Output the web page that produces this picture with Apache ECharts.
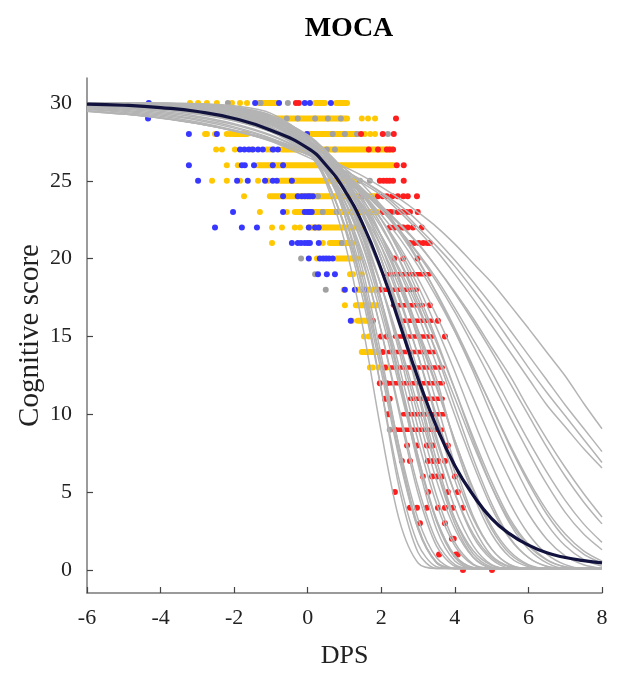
<!doctype html>
<html>
<head>
<meta charset="UTF-8">
<title>MOCA</title>
<script src="https://cdn.jsdelivr.net/npm/echarts@6/dist/echarts.min.js"></script>
<style>
  html, body { margin: 0; padding: 0; background: #fff; }
  #chart { width: 619px; height: 675px; }
</style>
</head>
<body>
<div id="chart"></div>
<script>
// x positions shared by all fitted curves
var curveX = [-6, -5, -4, -3, -2, -1, 0, 0.5, 1, 1.5, 2, 2.5, 3, 3.5, 4, 4.5, 5, 5.5, 6, 6.5, 7, 7.5, 8];

// individual fitted curves (grey)
var grayCurves = [
  [30, 30, 29.98, 29.93, 29.75, 29.15, 27.13, 24.86, 21.12, 15.58, 8.85, 3.12, 0.45, 0.1, 0.1, 0.1, 0.1, 0.1, 0.1, 0.1, 0.1, 0.1, 0.1],
  [30, 30, 29.98, 29.95, 29.81, 29.33, 27.74, 25.91, 22.82, 18.0, 11.59, 5.12, 1.12, 0.1, 0.1, 0.1, 0.1, 0.1, 0.1, 0.1, 0.1, 0.1, 0.1],
  [30, 29.99, 29.97, 29.9, 29.69, 29.04, 27.13, 25.16, 22.0, 17.4, 11.59, 5.66, 1.66, 0.21, 0.1, 0.1, 0.1, 0.1, 0.1, 0.1, 0.1, 0.1, 0.1],
  [30, 29.99, 29.97, 29.92, 29.74, 29.2, 27.64, 25.95, 23.27, 19.23, 13.77, 7.67, 2.8, 0.48, 0.1, 0.1, 0.1, 0.1, 0.1, 0.1, 0.1, 0.1, 0.1],
  [30, 29.98, 29.94, 29.83, 29.55, 28.8, 26.84, 24.98, 22.17, 18.24, 13.22, 7.79, 3.28, 0.8, 0.1, 0.1, 0.1, 0.1, 0.1, 0.1, 0.1, 0.1, 0.1],
  [30, 29.98, 29.95, 29.87, 29.63, 29.01, 27.38, 25.81, 23.41, 19.95, 15.32, 9.94, 4.91, 1.55, 0.24, 0.1, 0.1, 0.1, 0.1, 0.1, 0.1, 0.1, 0.1],
  [30, 29.98, 29.96, 29.89, 29.69, 29.19, 27.84, 26.52, 24.49, 21.47, 17.29, 12.13, 6.78, 2.63, 0.57, 0.1, 0.1, 0.1, 0.1, 0.1, 0.1, 0.1, 0.1],
  [29.98, 29.95, 29.9, 29.77, 29.46, 28.7, 27.0, 25.47, 23.27, 20.26, 16.35, 11.72, 7.04, 3.2, 0.91, 0.16, 0.1, 0.1, 0.1, 0.1, 0.1, 0.1, 0.1],
  [29.98, 29.96, 29.92, 29.81, 29.55, 28.94, 27.51, 26.24, 24.37, 21.73, 18.24, 13.9, 9.12, 4.8, 1.77, 0.37, 0.1, 0.1, 0.1, 0.1, 0.1, 0.1, 0.1],
  [29.99, 29.97, 29.94, 29.84, 29.63, 29.13, 27.94, 26.88, 25.32, 23.04, 19.95, 15.96, 11.31, 6.52, 2.96, 0.82, 0.12, 0.1, 0.1, 0.1, 0.1, 0.1, 0.1],
  [29.96, 29.92, 29.83, 29.65, 29.26, 28.46, 26.84, 25.52, 23.71, 21.3, 18.24, 14.54, 10.49, 6.53, 3.28, 1.23, 0.29, 0.1, 0.1, 0.1, 0.1, 0.1, 0.1],
  [29.97, 29.94, 29.87, 29.71, 29.39, 28.73, 27.38, 26.28, 24.74, 22.69, 19.95, 16.61, 12.73, 8.57, 4.91, 2.14, 0.68, 0.12, 0.1, 0.1, 0.1, 0.1, 0.1],
  [29.97, 29.95, 29.89, 29.77, 29.51, 28.96, 27.84, 26.92, 25.61, 23.86, 21.47, 18.47, 14.8, 10.77, 6.78, 3.45, 1.34, 0.32, 0.1, 0.1, 0.1, 0.1, 0.1],
  [29.93, 29.86, 29.74, 29.52, 29.11, 28.34, 27.0, 25.96, 24.62, 22.89, 20.77, 18.12, 15.06, 11.72, 8.3, 5.23, 2.8, 1.18, 0.34, 0.1, 0.1, 0.1, 0.1],
  [29.94, 29.89, 29.79, 29.6, 29.26, 28.66, 27.51, 26.64, 25.52, 24.07, 22.17, 19.84, 17.06, 13.9, 10.49, 7.16, 4.26, 2.06, 0.8, 0.22, 0.1, 0.1, 0.1],
  [29.9, 29.82, 29.69, 29.45, 29.04, 28.32, 27.13, 26.26, 25.16, 23.75, 22.0, 19.9, 17.4, 14.6, 11.59, 8.51, 5.66, 3.28, 1.66, 0.67, 0.21, 0.1, 0.1],
  [29.84, 29.74, 29.57, 29.3, 28.86, 28.14, 27.0, 26.2, 25.22, 24.01, 22.52, 20.77, 18.71, 16.35, 13.77, 11.04, 8.3, 5.77, 3.61, 1.98, 0.91, 0.34, 0.1],
  [29.87, 29.78, 29.63, 29.39, 29.01, 28.38, 27.38, 26.68, 25.81, 24.74, 23.41, 21.82, 19.95, 17.77, 15.32, 12.73, 9.94, 7.29, 4.91, 2.96, 1.55, 0.68, 0.24],
  [29.78, 29.65, 29.46, 29.15, 28.67, 27.94, 26.84, 26.1, 25.22, 24.13, 22.82, 21.3, 19.53, 17.53, 15.32, 12.95, 10.49, 8.03, 5.77, 3.83, 2.31, 1.23, 0.57],
  [29.73, 29.59, 29.38, 29.07, 28.6, 27.89, 26.84, 26.16, 25.34, 24.35, 23.18, 21.82, 20.28, 18.52, 16.56, 14.39, 12.13, 9.83, 7.59, 5.51, 3.7, 2.31, 1.3],
  [29.69, 29.53, 29.3, 28.96, 28.46, 27.74, 26.68, 26.0, 25.22, 24.25, 23.12, 21.82, 20.36, 18.71, 16.82, 14.8, 12.73, 10.49, 8.3, 6.28, 4.47, 2.96, 1.77],
  [29.63, 29.47, 29.22, 28.89, 28.38, 27.7, 26.68, 26.05, 25.32, 24.43, 23.41, 22.26, 20.98, 19.45, 17.77, 15.96, 14.03, 12.0, 9.94, 7.89, 6.02, 4.37, 2.96],
  [29.57, 29.39, 29.15, 28.78, 28.25, 27.54, 26.52, 25.93, 25.17, 24.3, 23.3, 22.17, 20.93, 19.45, 17.86, 16.15, 14.29, 12.46, 10.38, 8.41, 6.58, 4.91, 3.4],
  [29.49, 29.3, 29.04, 28.67, 28.2, 27.56, 26.68, 26.16, 25.53, 24.83, 24.06, 23.0, 21.8, 20.5, 19.0, 17.4, 15.7, 14.0, 12.3, 10.6, 9.2, 7.8, 6.55],
  [29.49, 29.3, 29.04, 28.68, 28.22, 27.6, 26.74, 26.24, 25.64, 24.97, 24.2, 23.2, 22.0, 20.8, 19.5, 18.0, 16.4, 14.7, 13.0, 11.4, 9.9, 8.4, 6.9],
  [29.47, 29.28, 29.02, 28.67, 28.2, 27.6, 26.74, 26.25, 25.65, 25.0, 24.25, 23.43, 22.4, 21.2, 19.9, 18.5, 17.0, 15.4, 13.8, 12.2, 10.6, 9.1, 7.6],
  [29.47, 29.28, 29.03, 28.7, 28.25, 27.68, 26.9, 26.42, 25.89, 25.3, 24.6, 23.83, 22.97, 22.04, 20.93, 19.69, 18.46, 17.01, 15.52, 13.98, 12.46, 10.71, 9.07],
  [29.99, 29.97, 29.93, 29.83, 29.55, 28.86, 27.13, 25.52, 23.12, 19.74, 15.32, 10.22, 5.34, 1.87, 0.34, 0.1, 0.1, 0.1, 0.1, 0.1, 0.1, 0.1, 0.1],
  [29.98, 29.95, 29.9, 29.78, 29.51, 28.92, 27.64, 26.52, 24.98, 22.82, 19.95, 16.35, 12.13, 7.79, 3.99, 1.55, 0.34, 0.1, 0.1, 0.1, 0.1, 0.1, 0.1],
  [29.95, 29.91, 29.83, 29.65, 29.3, 28.62, 27.25, 26.2, 24.74, 22.82, 20.36, 17.29, 13.77, 9.94, 6.28, 3.28, 1.34, 0.34, 0.1, 0.1, 0.1, 0.1, 0.1],
  [29.92, 29.85, 29.73, 29.51, 29.11, 28.38, 27.13, 26.2, 24.98, 23.41, 21.47, 19.13, 16.35, 13.22, 9.94, 6.78, 3.99, 1.98, 0.8, 0.24, 0.1, 0.1, 0.1],
  [29.9, 29.82, 29.69, 29.46, 29.06, 28.38, 27.25, 26.44, 25.42, 24.13, 22.52, 20.56, 18.24, 15.58, 12.73, 9.67, 6.78, 4.26, 2.31, 1.02, 0.34, 0.1, 0.1],
  [30, 29.99, 29.96, 29.9, 29.7, 29.11, 27.38, 25.61, 22.82, 18.71, 13.22, 7.29, 2.63, 0.45, 0.1, 0.1, 0.1, 0.1, 0.1, 0.1, 0.1, 0.1, 0.1],
  [30, 29.98, 29.95, 29.87, 29.61, 28.92, 27.0, 25.1, 22.17, 18.0, 12.73, 7.04, 2.63, 0.51, 0.1, 0.1, 0.1, 0.1, 0.1, 0.1, 0.1, 0.1, 0.1],
  [30, 29.98, 29.95, 29.86, 29.63, 29.06, 27.64, 26.28, 24.25, 21.3, 17.29, 12.4, 7.29, 3.12, 0.8, 0.1, 0.1, 0.1, 0.1, 0.1, 0.1, 0.1, 0.1],
  [29.98, 29.96, 29.92, 29.81, 29.53, 28.86, 27.25, 25.81, 23.71, 20.77, 16.82, 12.13, 7.29, 3.28, 0.91, 0.15, 0.1, 0.1, 0.1, 0.1, 0.1, 0.1, 0.1],
  [29.98, 29.95, 29.9, 29.77, 29.46, 28.73, 27.13, 25.71, 23.71, 20.95, 17.29, 12.95, 8.3, 4.26, 1.55, 0.32, 0.1, 0.1, 0.1, 0.1, 0.1, 0.1, 0.1],
  [29.98, 29.96, 29.93, 29.83, 29.59, 29.06, 27.84, 26.76, 25.22, 22.99, 19.95, 16.09, 11.59, 7.04, 3.28, 1.02, 0.19, 0.1, 0.1, 0.1, 0.1, 0.1, 0.1],
  [29.97, 29.95, 29.88, 29.73, 29.39, 28.7, 27.13, 25.81, 24.01, 21.47, 18.24, 14.29, 9.94, 5.77, 2.63, 0.8, 0.15, 0.1, 0.1, 0.1, 0.1, 0.1, 0.1],
  [29.97, 29.94, 29.88, 29.74, 29.46, 28.86, 27.64, 26.6, 25.22, 23.27, 20.77, 17.53, 13.77, 9.67, 5.77, 2.8, 0.91, 0.22, 0.1, 0.1, 0.1, 0.1, 0.1],
  [29.95, 29.9, 29.8, 29.59, 29.19, 28.38, 26.84, 25.61, 24.01, 21.82, 19.13, 15.83, 12.13, 8.3, 4.91, 2.31, 0.8, 0.19, 0.1, 0.1, 0.1, 0.1, 0.1],
  [29.95, 29.91, 29.83, 29.67, 29.34, 28.71, 27.51, 26.56, 25.3, 23.59, 21.4, 18.71, 15.42, 12.28, 8.08, 4.82, 2.31, 0.82, 0.21, 0.1, 0.1, 0.1, 0.1],
  [29.94, 29.89, 29.79, 29.59, 29.22, 28.54, 27.25, 26.28, 24.98, 23.27, 21.12, 18.47, 15.32, 11.86, 8.3, 5.12, 2.63, 1.02, 0.29, 0.1, 0.1, 0.1, 0.1],
  [29.93, 29.87, 29.77, 29.57, 29.22, 28.62, 27.51, 26.68, 25.61, 24.25, 22.52, 20.36, 17.77, 14.8, 11.59, 8.3, 5.34, 2.96, 1.34, 0.45, 0.1, 0.1, 0.1],
  [29.88, 29.79, 29.63, 29.36, 28.92, 28.14, 26.84, 25.91, 24.74, 23.27, 21.47, 19.33, 16.82, 14.03, 11.04, 8.05, 5.34, 3.12, 1.55, 0.63, 0.19, 0.1, 0.1],
  [29.82, 29.71, 29.54, 29.27, 28.85, 28.17, 27.13, 26.46, 25.53, 24.47, 23.18, 21.65, 19.86, 17.81, 15.52, 13.05, 10.49, 7.92, 5.6, 3.58, 2.04, 1.02, 0.43]
];

// group mean curve (dark)
var meanY = [29.92, 29.85, 29.7, 29.45, 29.0, 28.25, 27.1, 26.0, 24.4, 22.2, 19.3, 15.8, 12.3, 9.2, 6.7, 4.8, 3.3, 2.3, 1.6, 1.1, 0.8, 0.6, 0.45];

// observed scores: [score, [DPS values]]
var yellowRows = [
  [30, [-3.20, -2.98, -2.74, -2.47, -2.06, -1.84, -1.65]],
  [29, [1.47, 1.64, 1.83]],
  [28, [-2.79, -2.74, -2.52, -2.20, -2.11, 1.55, 1.70, 1.83]],
  [27, [-2.49, -2.33, -1.98, -1.52, -1.11, -1.03]],
  [26, [-2.20, -1.90]],
  [25, [-2.60, -2.20, -1.84, -1.35, -1.08]],
  [24, [-1.73]],
  [23, [-1.30, -0.57]],
  [22, [-0.97, -0.70, -0.35, -0.21]],
  [21, [-0.97, 0.41]],
  [20, [0.25]],
  [19, [1.15, 1.23, 1.47]],
  [18, [0.98]],
  [17, [1.01]],
  [16, [1.20]],
  [15, [1.53, 1.66]],
  [13, [1.69, 1.77, 1.93, 2.15]]
];
// dense stretches of yellow points: [from, to, score]
var yellowRuns = [
  [-1.35, -0.86, 30], [0.20, 0.47, 30], [0.77, 1.07, 30],
  [-1.30, 1.07, 29],
  [-2.03, -1.65, 28], [-0.02, 1.34, 28],
  [-0.70, 2.30, 27],
  [-1.35, 2.32, 26],
  [-0.76, 1.34, 25],
  [-1.03, 1.88, 24],
  [-0.35, 1.90, 23],
  [0.03, 1.50, 22],
  [0.60, 1.23, 21],
  [0.79, 1.40, 20],
  [1.34, 1.88, 18],
  [1.31, 1.88, 17],
  [1.36, 1.69, 16],
  [1.47, 1.88, 14]
];
var grayRows = [
  [30, [-2.17, -1.28, -0.54]],
  [29, [-0.57, -0.27, 0.20, 0.55, 0.90]],
  [28, [0.68, 1.01, 1.34, 2.18]],
  [27, [-0.92, 0.52, 0.74]],
  [26, [0.79]],
  [25, [1.42, 1.69]],
  [24, [0.28]],
  [23, [0.41, 0.79, 2.32]],
  [22, [2.37, 2.56]],
  [21, [0.93]],
  [20, [-0.18]],
  [19, [0.20]],
  [18, [0.49]],
  [9, [2.23]]
];
var blueRows = [
  [30, [-4.32, -1.43, -0.78, -0.08, 0.06, 0.63]],
  [29, [-4.34]],
  [28, [-3.23, -2.47, -0.02]],
  [27, [-1.84, -1.72, -1.60, -1.49, -1.35, -1.22, -0.95, -0.81]],
  [26, [-3.23, -1.79, -1.71, -1.46, -0.95, -0.67]],
  [25, [-2.98, -1.92, -1.63, -1.16, -0.95, -0.84, -0.43]],
  [24, [-0.67, -0.27, -0.16, -0.08, 0.0, 0.06, 0.14]],
  [23, [-2.03, -0.67, -0.08, 0.0, 0.06, 0.11]],
  [22, [-2.52, -1.79, -1.38, 0.03, 0.20, 0.30]],
  [21, [-0.43, -0.27, -0.18, -0.08, 0.0, 0.06, 0.30]],
  [20, [0.03, 0.33, 0.42, 0.50, 0.58, 0.68]],
  [19, [0.28, 0.52, 0.74]],
  [18, [1.01, 1.28, 1.55]],
  [16, [1.17]]
];
var redRows = [
  [30, [-0.32, -0.24]],
  [29, [2.40]],
  [28, [1.45, 2.04, 2.34]],
  [27, [1.66, 1.91, 2.15, 2.23, 2.32]],
  [26, [2.42, 2.61]],
  [25, [1.96, 2.06, 2.15, 2.23, 2.32, 2.61]],
  [24, [1.47, 1.91, 2.04, 2.15, 2.30, 2.45, 2.60, 2.72, 2.97]],
  [23, [2.04, 2.15, 2.25, 2.45, 2.56, 2.68, 2.78, 2.99]],
  [22, [2.23, 2.35, 2.47, 2.60, 2.72, 2.86, 3.10]],
  [21, [2.78, 2.90, 3.02, 3.14, 3.25, 3.32]],
  [20, [2.35, 2.60, 2.99]],
  [18, [1.96]],
  [17, [3.32]],
  [16, [1.77, 3.54]],
  [15, [1.99, 2.15, 3.73]],
  [14, [2.04]],
  [13, [2.10]],
  [12, [1.96, 2.15]],
  [11, [2.10, 2.16, 2.23]],
  [10, [2.18, 2.23]],
  [9, [2.37]],
  [8, [2.70, 2.97, 3.24, 3.32, 3.40, 3.81]],
  [7, [2.56, 2.78, 3.27, 3.40, 3.55, 3.73]],
  [6, [3.13, 3.38, 3.51, 3.65, 4.00]],
  [5, [2.37, 3.27, 3.81, 4.08]],
  [4, [2.78, 2.97, 3.24, 3.54, 3.73, 3.95, 4.22]],
  [3, [3.05, 3.73]],
  [2, [3.92, 3.97]],
  [1, [3.57, 4.03, 4.08]],
  [0, [4.22, 5.01]]
];
// dense red stretches lying under the fitted curves
var redRuns = [
  [2.15, 3.32, 19], [1.96, 2.97, 18], [2.32, 3.13, 17], [2.51, 3.38, 16],
  [2.37, 3.40, 15], [2.20, 3.46, 14], [2.20, 3.67, 13], [2.20, 3.67, 12],
  [2.78, 3.67, 11], [2.59, 3.73, 10], [2.45, 3.67, 9]
];

var xTicks = [-6, -4, -2, 0, 2, 4, 6, 8];
var yTicks = [0, 5, 10, 15, 20, 25, 30];

var YELLOW = '#FFC800', BLUE = '#3737FF', RED = '#FF1E1E', DOTGRAY = '#A0A0A0';
var FONT = '"Liberation Serif", "Times New Roman", serif';

function rowsToPoints(rows) {
  var out = [];
  rows.forEach(function(r) {
    r[1].forEach(function(x) { out.push([x, r[0]]); });
  });
  return out;
}

function runSeries(runs, color, width) {
  return {
    type: 'custom',
    silent: true,
    data: runs,
    encode: { x: [0, 1], y: 2 },
    renderItem: function(params, api) {
      var p1 = api.coord([api.value(0), api.value(2)]);
      var p2 = api.coord([api.value(1), api.value(2)]);
      return {
        type: 'line',
        shape: { x1: p1[0], y1: p1[1], x2: p2[0], y2: p2[1] },
        style: { stroke: color, lineWidth: width, lineCap: 'round' }
      };
    }
  };
}

function dotSeries(rows, color) {
  return {
    type: 'scatter',
    silent: true,
    symbolSize: 6,
    itemStyle: { color: color, opacity: 1 },
    data: rowsToPoints(rows)
  };
}

var series = [];
series.push(runSeries(yellowRuns, YELLOW, 6));
series.push(dotSeries(yellowRows, YELLOW));
series.push(dotSeries(grayRows, DOTGRAY));
series.push(dotSeries(blueRows, BLUE));
series.push(runSeries(redRuns, RED, 4.5));
series.push(dotSeries(redRows, RED));

grayCurves.forEach(function(c) {
  series.push({
    type: 'line',
    silent: true,
    smooth: 0.3,
    showSymbol: false,
    lineStyle: { color: '#B4B4B4', width: 1.5 },
    data: curveX.map(function(x, i) { return [x, c[i]]; })
  });
});
series.push({
  type: 'line',
  silent: true,
  smooth: 0.5,
  showSymbol: false,
  lineStyle: { color: '#12123F', width: 3.2 },
  data: curveX.map(function(x, i) { return [x, meanY[i]]; })
});

var chart = echarts.init(document.getElementById('chart'), null, { renderer: 'canvas' });
chart.setOption({
  animation: false,
  backgroundColor: '#fff',
  title: {
    text: 'MOCA',
    left: 344,
    top: 10,
    textAlign: 'center',
    textStyle: { fontFamily: FONT, fontWeight: 'bold', fontSize: 28, color: '#000' }
  },
  grid: { left: 87, right: 17, top: 78, bottom: 82 },
  xAxis: {
    type: 'value',
    min: -6, max: 8, interval: 2,
    name: 'DPS',
    nameLocation: 'middle',
    nameGap: 50,
    nameTextStyle: { fontFamily: FONT, fontSize: 26, color: '#222' },
    axisLine: { show: true, onZero: false, lineStyle: { color: '#7a7a7a', width: 1.5 } },
    axisTick: { show: true, inside: true, length: 6, lineStyle: { color: '#444', width: 1.2 } },
    axisLabel: { fontFamily: FONT, fontSize: 22, color: '#222', margin: 14,
      customValues: xTicks },
    splitLine: { show: false }
  },
  yAxis: {
    type: 'value',
    min: -1.48, max: 31.6,
    name: 'Cognitive score',
    nameLocation: 'middle',
    nameGap: 42,
    nameMoveOverlap: false,
    nameRotate: 90,
    nameTextStyle: { fontFamily: FONT, fontSize: 29, color: '#222' },
    axisLine: { show: true, onZero: false, lineStyle: { color: '#7a7a7a', width: 1.5 } },
    axisTick: { show: true, inside: true, length: 6, lineStyle: { color: '#444', width: 1.2 },
      customValues: yTicks },
    axisLabel: { fontFamily: FONT, fontSize: 22, color: '#222', margin: 15,
      customValues: yTicks },
    splitLine: { show: false }
  },
  series: series
});
</script>
</body>
</html>
